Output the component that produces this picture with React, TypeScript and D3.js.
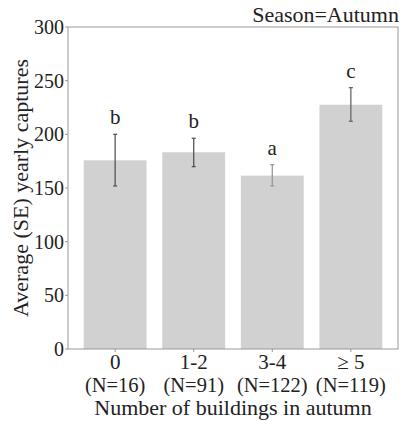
import React from "react";
import * as d3 from "d3";

const categories = ["0", "1-2", "3-4", "≥ 5"];
const counts = ["(N=16)", "(N=91)", "(N=122)", "(N=119)"];
const means = [175.8, 183.3, 161.5, 227.6];
const errLow = [151.9, 169.9, 151.9, 212.2];
const errHigh = [200, 196.3, 171.7, 243.5];
const groups = ["b", "b", "a", "c"];
const yTicks = [0, 50, 100, 150, 200, 250, 300];

const errColors = ["#555", "#555", "#999", "#666"];

const left = 68, right = 398, top = 27, bottom = 349;
const x = d3.scaleLinear().domain([-0.6, 3.6]).range([left, right]);
const y = d3.scaleLinear().domain([0, 300]).range([bottom, top]);
const barW = 0.8;

const App = () => (
  <div style={{ position: "absolute", left: 0, top: 0 }}>
    <svg width={401} height={421} fontFamily="Liberation Serif" fill="#222">
      {means.map((m, i) => (
        <rect
          key={"bar" + i}
          x={x(i - barW / 2)}
          width={x(barW) - x(0)}
          y={y(m)}
          height={y(0) - y(m)}
          fill="#d1d1d1"
        />
      ))}

      {means.map((m, i) => {
        const cx = x(i);
        return (
          <g key={"err" + i}>
            <g stroke={errColors[i]} strokeWidth={1.3}>
              <line x1={cx} x2={cx} y1={y(errLow[i])} y2={y(errHigh[i])} />
              <line x1={cx - 2} x2={cx + 2} y1={y(errLow[i])} y2={y(errLow[i])} />
              <line x1={cx - 2} x2={cx + 2} y1={y(errHigh[i])} y2={y(errHigh[i])} />
            </g>
            <text x={cx} y={y(errHigh[i]) - 10} textAnchor="middle" fontFamily="Liberation Serif" fontSize={21}>
              {groups[i]}
            </text>
          </g>
        );
      })}

      <rect
        x={left}
        y={top}
        width={right - left}
        height={bottom - top}
        fill="none"
        stroke="#999"
        strokeWidth={1}
      />

      {yTicks.map((t) => (
        <g key={"yt" + t}>
          <line x1={left - 3} x2={left} y1={y(t)} y2={y(t)} stroke="#999" />
          <text x={left - 4} y={y(t) + 7} textAnchor="end" fontFamily="Liberation Serif" fontSize={20}>
            {t}
          </text>
        </g>
      ))}

      {categories.map((c, i) => (
        <g key={"xt" + i}>
          <line x1={x(i)} x2={x(i)} y1={bottom} y2={bottom + 3} stroke="#999" />
          <text x={x(i)} y={369} textAnchor="middle" fontFamily="Liberation Serif" fontSize={21}>
            {c}
          </text>
          <text x={x(i)} y={392} textAnchor="middle" fontFamily="Liberation Serif" fontSize={20.5}>
            {counts[i]}
          </text>
        </g>
      ))}

      <text x={(left + right) / 2} y={415} textAnchor="middle" fontFamily="Liberation Serif" fontSize={22}>
        Number of buildings in autumn
      </text>

      <text
        transform={`translate(28, ${(top + bottom) / 2}) rotate(-90)`}
        textAnchor="middle"
        fontFamily="Liberation Serif"
        fontSize={22}
      >
        Average (SE) yearly captures
      </text>

      <text x={right + 1} y={22} textAnchor="end" fontFamily="Liberation Serif" fontSize={22}>
        Season=Autumn
      </text>
    </svg>
  </div>
);

export default App;
